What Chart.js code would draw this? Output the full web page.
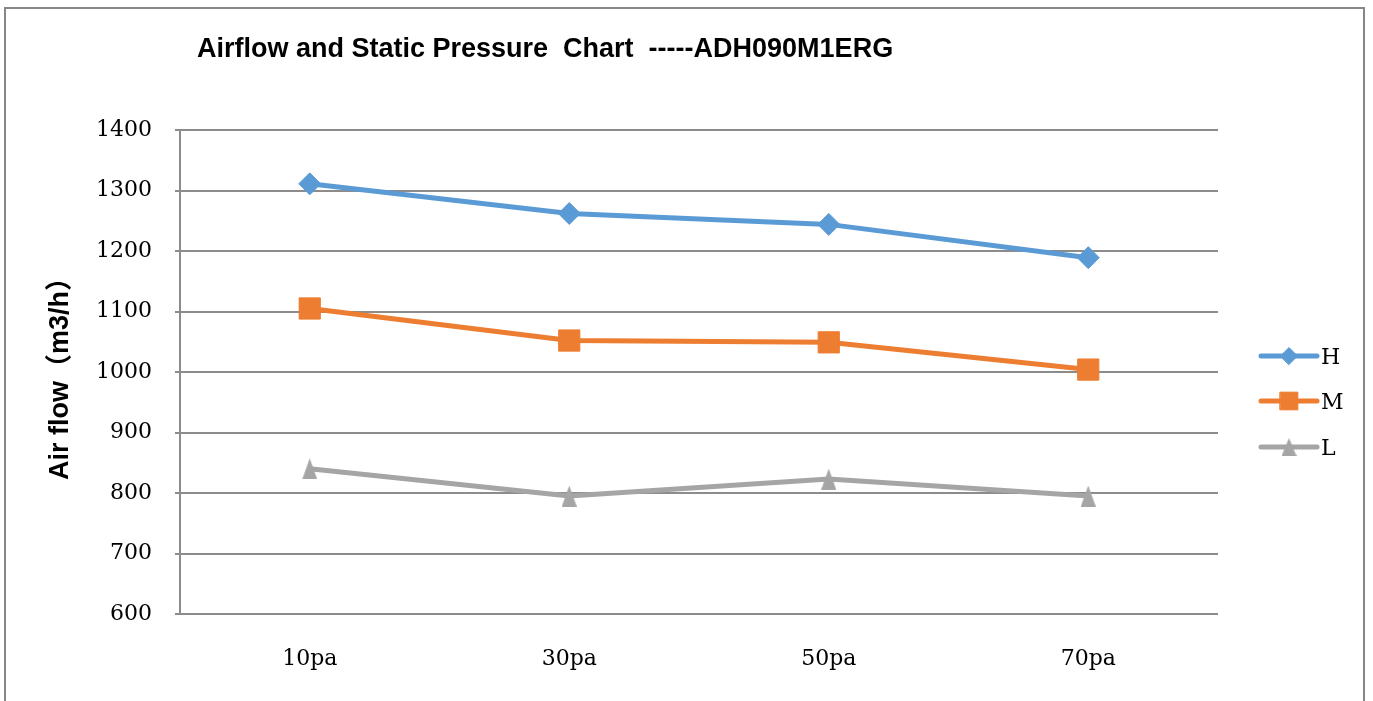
<!DOCTYPE html>
<html>
<head>
<meta charset="utf-8">
<script src="https://cdn.jsdelivr.net/npm/chart.js@4.4.1/dist/chart.umd.min.js"></script>
<style>
html, body { margin: 0; padding: 0; background: #fff; overflow: hidden; }
#wrap { position: relative; width: 1373px; height: 701px; }
#frame { position: absolute; left: 4px; top: 7px; width: 1361px; height: 720px; border: 2px solid #878787; box-sizing: border-box; }
#title { position: absolute; left: 197px; top: 33px; font: bold 27px "Liberation Sans", Arial, sans-serif; white-space: pre; color: #000; }
canvas { position: absolute; left: 0; top: 0; }
</style>
</head>
<body>
<div id="wrap">
  <div id="frame"></div>
  <canvas id="chart" width="1373" height="701"></canvas>
  <div id="title">Airflow and Static Pressure  Chart  -----ADH090M1ERG</div>
</div>
<script>
// Data
const categories = ['10pa', '30pa', '50pa', '70pa'];
const seriesNames = ['H', 'M', 'L'];
const valuesH = [1311, 1262, 1244, 1189];
const valuesM = [1105, 1052, 1049, 1004];
const valuesL = [840, 795, 823, 795];
const yMin = 600, yMax = 1400, yStep = 100;

const colH = '#5B9BD5', colM = '#ED7D31', colL = '#A5A5A5';
const gridCol = '#8c8c8c';
const serifFont = '"DejaVu Serif", "Liberation Serif", serif';
const sansFont = '"Liberation Sans", Arial, "Noto Sans CJK SC", sans-serif';

// narrow triangle marker (Excel style)
function makeTri(w, h, color) {
    const c = document.createElement('canvas');
    c.width = w; c.height = h;
    const g = c.getContext('2d');
    g.fillStyle = color;
    g.beginPath();
    g.moveTo(w / 2, 0);
    g.lineTo(w, h);
    g.lineTo(0, h);
    g.closePath();
    g.fill();
    return c;
}
const triBig = makeTri(15, 21, colL);
const triSmall = makeTri(15, 18, colL);

// Legend drawn on the right, line + marker + label
const legendItems = [
    { color: colH, style: 'rectRot', radius: 8.5, y: 356 },
    { color: colM, style: 'rect', radius: 12.5, y: 401 },
    { color: colL, style: triSmall, radius: 9, y: 447 }
];
const sideLegend = {
    id: 'sideLegend',
    afterDraw(chart) {
        const ctx = chart.ctx;
        ctx.save();
        legendItems.forEach((it, i) => {
            ctx.strokeStyle = it.color;
            ctx.lineWidth = 5;
            ctx.lineCap = 'round';
            ctx.beginPath();
            ctx.moveTo(1261, it.y);
            ctx.lineTo(1317, it.y);
            ctx.stroke();
            ctx.fillStyle = it.color;
            ctx.strokeStyle = it.color;
            ctx.lineWidth = 1;
            Chart.helpers.drawPoint(ctx, { pointStyle: it.style, radius: it.radius, rotation: 0, borderWidth: 1 }, 1289, it.y);
            ctx.fillStyle = '#000';
            ctx.font = '22px ' + serifFont;
            ctx.textAlign = 'left';
            ctx.textBaseline = 'middle';
            ctx.fillText(seriesNames[i], 1321, it.y + 2);
        });
        ctx.restore();
    }
};

const ctx = document.getElementById('chart').getContext('2d');
new Chart(ctx, {
    type: 'line',
    data: {
        labels: categories,
        datasets: [{
            label: seriesNames[0],
            data: valuesH,
            borderColor: colH,
            backgroundColor: colH,
            borderWidth: 5,
            pointStyle: 'rectRot',
            pointRadius: 11,
            pointBorderWidth: 1,
            tension: 0
        }, {
            label: seriesNames[1],
            data: valuesM,
            borderColor: colM,
            backgroundColor: colM,
            borderWidth: 5,
            pointStyle: 'rect',
            pointRadius: 15,
            pointBorderWidth: 1,
            tension: 0
        }, {
            label: seriesNames[2],
            data: valuesL,
            borderColor: colL,
            backgroundColor: colL,
            borderWidth: 5,
            pointStyle: triBig,
            pointRadius: 10,
            tension: 0
        }]
    },
    options: {
        responsive: false,
        animation: false,
        devicePixelRatio: 1,
        layout: { padding: { top: 130, right: 155, bottom: 0, left: 0 } },
        plugins: {
            legend: { display: false },
            title: { display: false },
            tooltip: { enabled: false }
        },
        scales: {
            x: {
                offset: true,
                grid: { display: false, drawTicks: false },
                border: { display: false },
                ticks: { color: '#000', font: { family: serifFont, size: 22 }, padding: 32, maxRotation: 0 },
                afterFit: s => { s.height = 87; }
            },
            y: {
                min: yMin,
                max: yMax,
                ticks: {
                    stepSize: yStep,
                    color: '#000',
                    font: { family: serifFont, size: 22 },
                    padding: 23,
                    callback: v => String(v)
                },
                grid: { color: gridCol, lineWidth: 2, tickLength: 5, drawTicks: true },
                border: { display: true, color: gridCol, width: 2 },
                title: {
                    display: true,
                    text: 'Air flow（m3/h）',
                    color: '#000',
                    font: { family: sansFont, size: 27, weight: 'bold' },
                    padding: { top: 44, bottom: 0 }
                },
                afterFit: s => { s.width = 180; }
            }
        }
    },
    plugins: [sideLegend]
});
</script>
</body>
</html>
